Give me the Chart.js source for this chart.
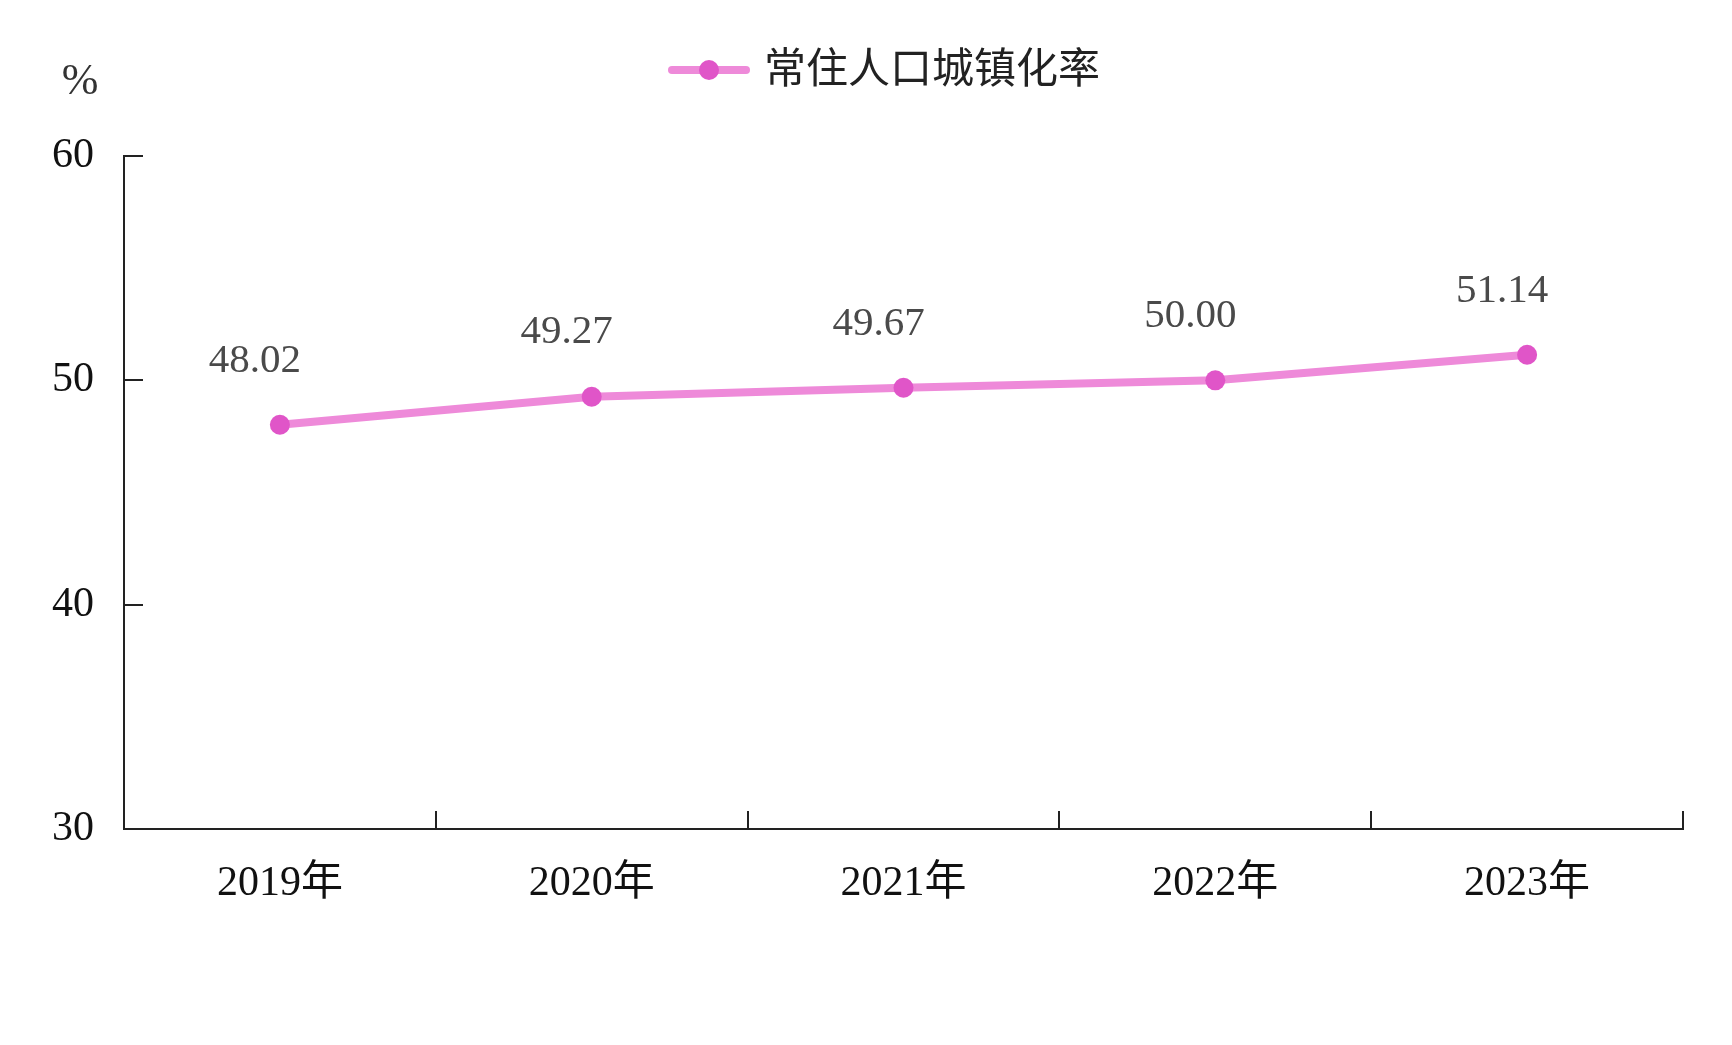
<!DOCTYPE html>
<html lang="zh">
<head>
  <meta charset="UTF-8" />
  <title>常住人口城镇化率</title>
  <script src="https://cdn.jsdelivr.net/npm/chart.js"></script>
  <style>
    html, body { margin: 0; padding: 0; background: #ffffff; }
    #wrap { width: 100vw; height: 100vh; position: relative; }
  </style>
</head>
<body>
<div id="wrap"><canvas id="rateChart"></canvas></div>

<script>
  // data
  const years = ['2019年', '2020年', '2021年', '2022年', '2023年'];
  const urbanRate = [48.02, 49.27, 49.67, 50.00, 51.14];
  const seriesName = '常住人口城镇化率';
  const yMin = 30, yMax = 60, yStep = 10;
  const unitLabel = '%';

  const lineColor = '#ee8ad9';
  const pointColor = '#e055c8';
  const serif = '"Liberation Serif", "Times New Roman", "Noto Sans CJK SC", serif';

  // inward tick marks, value labels, unit and legend
  const extras = {
    id: 'extras',
    beforeDatasetsDraw(chart) {
      const ctx = chart.ctx;
      const x = chart.scales.x, y = chart.scales.y;
      ctx.save();
      ctx.strokeStyle = '#222';
      ctx.lineWidth = 2;
      ctx.beginPath();
      for (let i = 0; i < years.length; i++) {
        const px = Math.round(x.getPixelForValue(i + 0.5));
        ctx.moveTo(px, y.bottom);
        ctx.lineTo(px, y.bottom - 18);
      }
      y.ticks.forEach(t => {
        const py = Math.round(y.getPixelForValue(t.value));
        ctx.moveTo(x.left, py);
        ctx.lineTo(x.left + 19, py);
      });
      ctx.stroke();
      ctx.restore();
    },
    afterDatasetsDraw(chart) {
      const ctx = chart.ctx;
      const meta = chart.getDatasetMeta(0);
      ctx.save();
      ctx.font = '41px ' + serif;
      ctx.fillStyle = '#4a4a4a';
      ctx.textAlign = 'center';
      ctx.textBaseline = 'middle';
      meta.data.forEach((pt, i) => {
        ctx.fillText(urbanRate[i].toFixed(2), pt.x - 25, pt.y - 64);
      });

      // unit
      ctx.font = '44px ' + serif;
      ctx.fillStyle = '#333';
      ctx.fillText(unitLabel, 80, 82);

      // legend
      const ly = 70;
      ctx.strokeStyle = lineColor;
      ctx.lineWidth = 8;
      ctx.lineCap = 'round';
      ctx.beginPath();
      ctx.moveTo(672, ly);
      ctx.lineTo(746, ly);
      ctx.stroke();
      ctx.fillStyle = pointColor;
      ctx.beginPath();
      ctx.arc(709, ly, 10, 0, Math.PI * 2);
      ctx.fill();
      ctx.font = '42px ' + serif;
      ctx.fillStyle = '#222';
      ctx.textAlign = 'left';
      ctx.fillText(seriesName, 764, ly + 2);
      ctx.restore();
    }
  };

  new Chart(document.getElementById('rateChart'), {
    type: 'line',
    data: {
      labels: years,
      datasets: [{
        label: seriesName,
        data: urbanRate,
        borderColor: lineColor,
        borderWidth: 8,
        tension: 0,
        pointRadius: 10,
        pointBorderWidth: 0,
        pointBackgroundColor: pointColor,
        pointBorderColor: pointColor
      }]
    },
    options: {
      responsive: true,
      maintainAspectRatio: false,
      animation: false,
      layout: { padding: { top: 156, right: 49, bottom: 0, left: 0 } },
      plugins: {
        legend: { display: false },
        tooltip: { enabled: false }
      },
      scales: {
        x: {
          offset: true,
          grid: { display: true, drawOnChartArea: false, drawTicks: false, offset: true },
          border: { display: true, color: '#222', width: 2 },
          ticks: {
            padding: 30,
            color: '#111',
            font: { family: serif, size: 42 }
          },
          afterFit(scale) { scale.height = 216; }
        },
        y: {
          min: yMin,
          max: yMax,
          grid: { display: true, drawOnChartArea: false, drawTicks: false },
          border: { display: true, color: '#222', width: 2 },
          ticks: {
            stepSize: yStep,
            padding: 30,
            color: '#111',
            font: { family: serif, size: 42 }
          },
          afterFit(scale) { scale.width = 124; }
        }
      }
    },
    plugins: [extras]
  });
</script>
</body>
</html>
